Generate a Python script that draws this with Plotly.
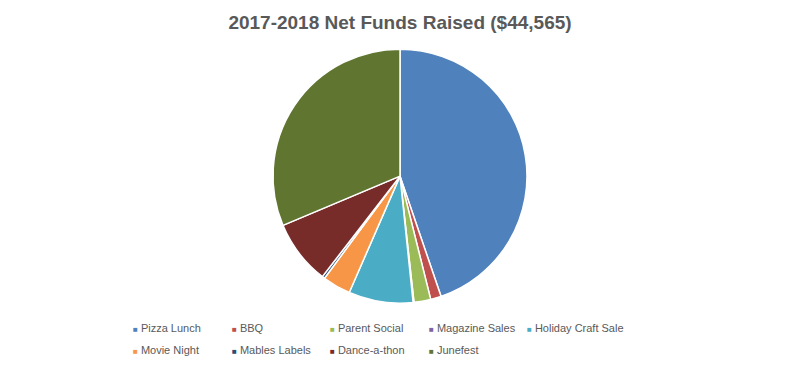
import plotly.graph_objects as go

categories = ["Pizza Lunch", "BBQ", "Parent Social", "Magazine Sales", "Holiday Craft Sale",
              "Movie Night", "Mables Labels", "Dance-a-thon", "Junefest"]
values = [19950, 600, 950, 50, 3650, 1600, 150, 3650, 13965]
colors = ["#4F81BD", "#C0504D", "#9BBB59", "#8064A2", "#4BACC6",
          "#F79646", "#2C4D75", "#772C2A", "#5F7530"]

fig = go.Figure(go.Pie(
    labels=categories, values=values, sort=False, direction="clockwise", rotation=0,
    marker=dict(colors=colors, line=dict(color="white", width=1.5)),
    textinfo="none", domain=dict(x=[0, 1], y=[0.174, 0.866]), showlegend=False,
))

# Excel-style legend: 5 columns, 2 rows, small square markers
n_cols = 5
col_x0, col_dx = 131 / 800, 98.5 / 800
row_y = [1 - 328 / 367, 1 - 350 / 367]
for i, (name, col) in enumerate(zip(categories, colors)):
    r, c = divmod(i, n_cols)
    fig.add_annotation(
        x=col_x0 + c * col_dx, y=row_y[r], xref="paper", yref="paper",
        xanchor="left", yanchor="middle", showarrow=False,
        text=f'<span style="color:{col};font-size:8px">■</span> {name}',
        font=dict(size=11, color="#595959", family="Liberation Sans, Arial, sans-serif"),
    )

fig.update_layout(
    width=800, height=367, margin=dict(l=0, r=0, t=0, b=0),
    paper_bgcolor="white", plot_bgcolor="white",
    font=dict(family="Liberation Sans, Arial, sans-serif", color="#595959", size=12),
    title=dict(text="<b>2017-2018 Net Funds Raised ($44,565)</b>", x=0.5, xanchor="center",
               y=1 - 22 / 367, yanchor="middle", font=dict(size=19, color="#595959")),
)
fig.write_html("out.html", config={"displayModeBar": False},
               post_script="document.body.style.margin='0px';")
